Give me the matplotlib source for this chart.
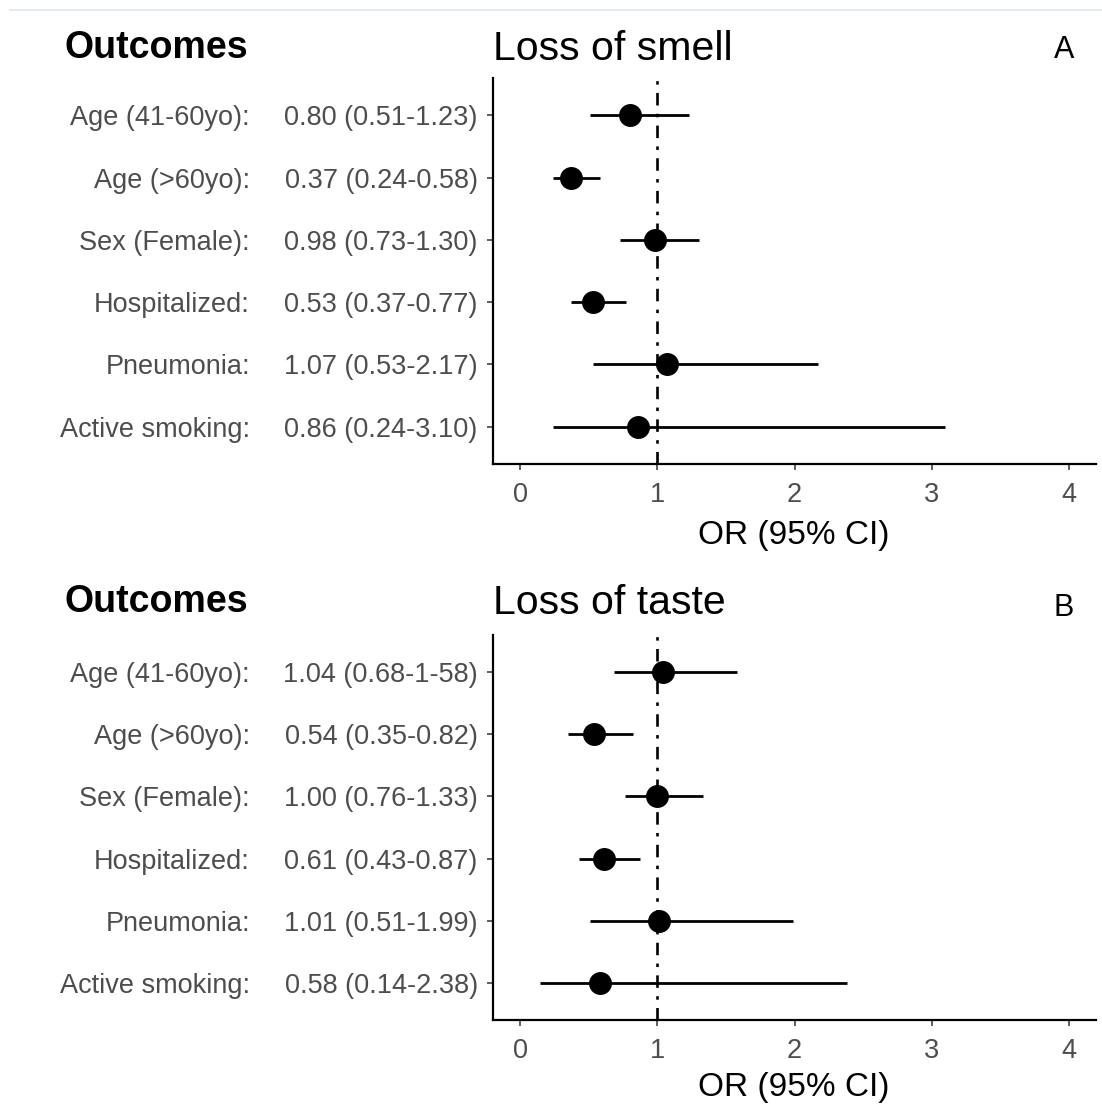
import numpy as np
import matplotlib
matplotlib.use("Agg")
import matplotlib.pyplot as plt
from matplotlib.lines import Line2D
from matplotlib.transforms import blended_transform_factory

plt.rcParams['font.family'] = ['Liberation Sans', 'DejaVu Sans']
plt.rcParams['lines.scale_dashes'] = False

# data
names = ["Age (41-60yo):", "Age (>60yo):", "Sex (Female):", "Hospitalized:",
         "Pneumonia:", "Active smoking:"]

smell_or = [0.80, 0.37, 0.98, 0.53, 1.07, 0.86]
smell_lo = [0.51, 0.24, 0.73, 0.37, 0.53, 0.24]
smell_hi = [1.23, 0.58, 1.30, 0.77, 2.17, 3.10]
smell_txt = ["0.80 (0.51-1.23)", "0.37 (0.24-0.58)", "0.98 (0.73-1.30)",
             "0.53 (0.37-0.77)", "1.07 (0.53-2.17)", "0.86 (0.24-3.10)"]

taste_or = [1.04, 0.54, 1.00, 0.61, 1.01, 0.58]
taste_lo = [0.68, 0.35, 0.76, 0.43, 0.51, 0.14]
taste_hi = [1.58, 0.82, 1.33, 0.87, 1.99, 2.38]
taste_txt = ["1.04 (0.68-1-58)", "0.54 (0.35-0.82)", "1.00 (0.76-1.33)",
             "0.61 (0.43-0.87)", "1.01 (0.51-1.99)", "0.58 (0.14-2.38)"]

xticks = [0, 1, 2, 3, 4]

W, H = 1102, 1109
fig = plt.figure(figsize=(W / 100, H / 100), dpi=100)

def fx(px):
    return px / W

def fy(py):
    return 1 - py / H

grey = "#4D4D4D"

def panel(top, bottom, ors, lo, hi, txt, title, letter, ytitle, yletter, yxlab):
    ax = fig.add_axes([fx(493), fy(bottom), fx(1096) - fx(493), fy(top) - fy(bottom)])
    y = np.arange(len(names))[::-1] + 1
    ax.hlines(y, lo, hi, color="black", lw=2.0, zorder=2)
    ax.plot(ors, y, "o", color="black", ms=15.5, zorder=3)
    ax.axvline(1, color="black", lw=1.9, dashes=(9, 6, 2.5, 6), zorder=1)
    ax.set_xlim(-0.2, 4.2)
    ax.set_ylim(0.4, 6.6)
    ax.set_xticks(xticks)
    ax.set_yticks(y)
    ax.set_yticklabels(txt)
    for s in ["top", "right"]:
        ax.spines[s].set_visible(False)
    for s in ["left", "bottom"]:
        ax.spines[s].set_linewidth(1.6)
    ax.tick_params(axis="y", length=4, width=1.1, color="#333333", pad=7,
                   labelsize=19.5, labelcolor=grey)
    ax.tick_params(axis="x", length=4, width=1.1, color="#333333", pad=9,
                   labelsize=19.5, labelcolor=grey)
    tr = blended_transform_factory(fig.transFigure, ax.transData)
    for yy, n in zip(y, names):
        ax.text(fx(250), yy, n, transform=tr, ha="right", va="center_baseline",
                fontsize=19.5, color=grey)
    fig.text(fx(65), fy(ytitle), "Outcomes", fontsize=27, fontweight="bold",
             ha="left", va="baseline")
    fig.text(fx(493), fy(ytitle + 2), title, fontsize=29.5, ha="left", va="baseline")
    fig.text(fx(1064), fy(yletter), letter, fontsize=22, ha="center", va="baseline")
    fig.text(fx(794), fy(yxlab), "OR (95% CI)", fontsize=24, ha="center", va="baseline")
    return ax

panel(78, 464, smell_or, smell_lo, smell_hi, smell_txt, "Loss of smell", "A", 58, 58, 544)
panel(635, 1020, taste_or, taste_lo, taste_hi, taste_txt, "Loss of taste", "B", 612, 616, 1096)

# thin border line at top of the screenshot
fig.add_artist(Line2D([fx(10), 1], [fy(10), fy(10)], color="#DCE8F4", lw=1.2))

fig.savefig("out.png", dpi=100)
